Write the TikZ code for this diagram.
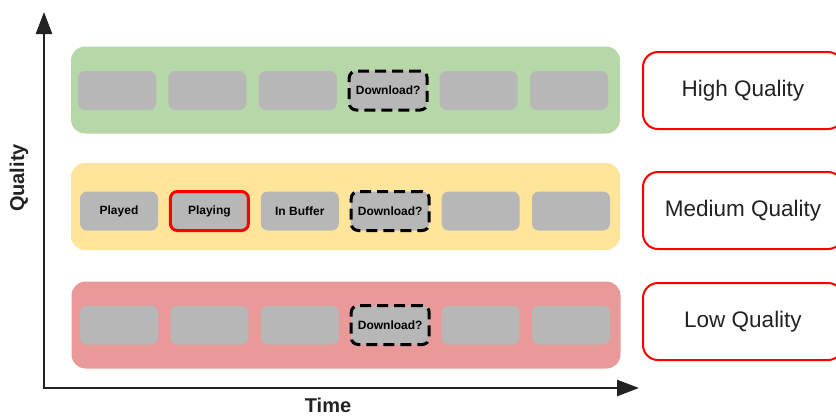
\documentclass[tikz,border=0pt]{standalone}
\usepackage{fontspec}
\setmainfont{Liberation Sans}
\usetikzlibrary{arrows.meta,positioning}
\definecolor{bandHigh}{RGB}{182,215,168}
\definecolor{bandMid}{RGB}{255,229,153}
\definecolor{bandLow}{RGB}{234,153,153}
\definecolor{segGrey}{RGB}{183,183,183}
\definecolor{inkDark}{RGB}{34,34,34}
\tikzset{
  band/.style={rounded corners=14pt, minimum width=549pt, minimum height=87pt, inner sep=0pt},
  seg/.style={fill=segGrey, rounded corners=7pt, minimum width=78pt, minimum height=39pt,
    inner sep=0pt, font=\bfseries\fontsize{12}{14}\selectfont},
  nowseg/.style={draw=red, line width=3pt},
  askseg/.style={draw=black, line width=3pt, dash pattern=on 11pt off 6pt},
  tag/.style={draw=red, line width=2pt, rounded corners=15pt, minimum width=200pt,
    minimum height=77pt, inner sep=0pt, text=inkDark, font=\fontsize{22.5}{26}\selectfont},
  axisln/.style={{Triangle[length=22pt,width=16pt]}-{Triangle[length=22pt,width=16pt]},
    line width=2.5pt, inkDark, line join=miter},
  axislab/.style={inkDark, inner sep=0pt, font=\bfseries\fontsize{20}{24}\selectfont},
}
\begin{document}
\begin{tikzpicture}[x=1pt, y=-1pt]
    \clip (0,0) rectangle (836,416);
    % quality bands
    \node[band, fill=bandHigh] (high) at (345.5,90) {};
    \node[band, fill=bandMid] (mid) at (345.5,206.5) {};
    \node[band, fill=bandLow] (low) at (346,325) {};
    % segments
    \foreach \i/\lab/\sty in {1//, 2//, 3//, 4/Download?/askseg, 5//, 6//} {
      \node[seg, \sty] (high-\i) at ({117+(\i-1)*90.4},90.5) {\lab};
    }
    \foreach \i/\lab/\sty in {1/Played/, 2/Playing/nowseg, 3/In Buffer/, 4/Download?/askseg, 5//, 6//} {
      \node[seg, \sty] (mid-\i) at ({119+(\i-1)*90.4},211) {\lab};
    }
    \foreach \i/\lab/\sty in {1//, 2//, 3//, 4/Download?/askseg, 5//, 6//} {
      \node[seg, \sty] (low-\i) at ({119+(\i-1)*90.4},325) {\lab};
    }
    % quality tags
    \node[tag] (tag-high) at (743,90.5) {High Quality};
    \node[tag] (tag-mid) at (743,210.5) {Medium Quality};
    \node[tag] (tag-low) at (743,321.5) {Low Quality};
    % axes
    \coordinate (origin) at (44,388);
    \coordinate (qtop) at (44,12);
    \coordinate (tend) at (639,388);
    \draw[axisln] (qtop) -- (origin) -- (tend);
    \node[axislab, rotate=90] (qlab) at (19,178) {Quality};
    \node[axislab] (tlab) at (328,405) {Time};
  \end{tikzpicture}
\end{document}
